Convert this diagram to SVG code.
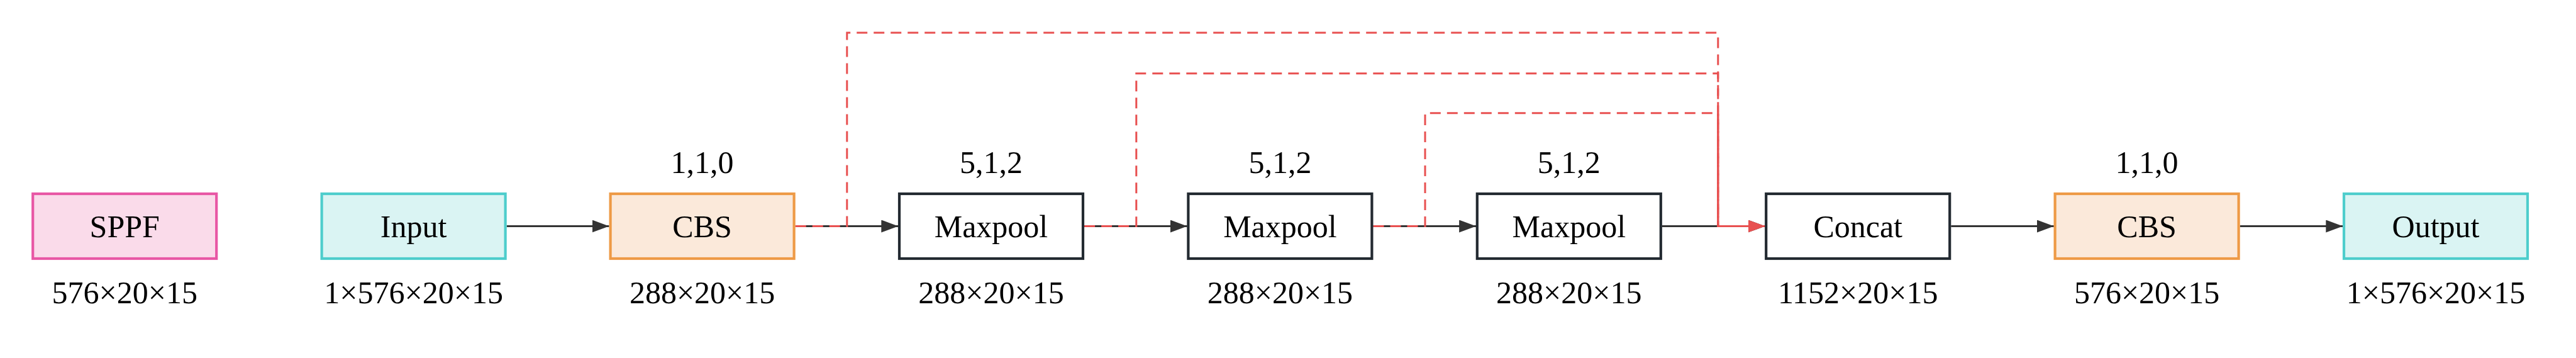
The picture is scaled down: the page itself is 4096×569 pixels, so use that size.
<svg xmlns="http://www.w3.org/2000/svg" width="4096" height="569" viewBox="0 0 4096 569">
<defs>
<style>
.box{stroke-width:4.2}
.sppf{fill:#FADBEA;stroke:#E857A5}
.io{fill:#DAF4F3;stroke:#4ECDCC}
.cbs{fill:#FBE9DA;stroke:#EE9A46}
.op{fill:#FFFFFF;stroke:#232A31}
text{font-family:"Liberation Serif","Times New Roman",serif;font-size:50px;fill:#000;text-anchor:middle}
.conn{fill:none;stroke:#333333;stroke-width:3}
.skip{fill:none;stroke:#E85050;stroke-width:3;stroke-dasharray:17 10}
.merge{fill:none;stroke:#E85050;stroke-width:3}
</style>
<marker id="arrDark" markerUnits="userSpaceOnUse" markerWidth="28" markerHeight="20" refX="27" refY="10" orient="auto">
<path d="M0,0 L27,10 L0,20 Z" fill="#333333"/>
</marker>
<marker id="arrRed" markerUnits="userSpaceOnUse" markerWidth="28" markerHeight="20" refX="27" refY="10" orient="auto">
<path d="M0,0 L27,10 L0,20 Z" fill="#E85050"/>
</marker>
</defs>
<rect width="4096" height="569" fill="#FFFFFF"/>

<g id="connectors">
<path class="conn" d="M805.7 359.5 H968.5" marker-end="url(#arrDark)"/>
<path class="conn" d="M1264.7 359.5 H1428.3" marker-end="url(#arrDark)"/>
<path class="conn" d="M1724.1 359.5 H1887.7" marker-end="url(#arrDark)"/>
<path class="conn" d="M2183.5 359.5 H2347.1" marker-end="url(#arrDark)"/>
<path class="conn" d="M2642.9 359.5 H2806.5" marker-end="url(#arrDark)"/>
<path class="conn" d="M3102.3 359.5 H3265.9" marker-end="url(#arrDark)"/>
<path class="conn" d="M3561.7 359.5 H3725.3" marker-end="url(#arrDark)"/>
<path class="skip" d="M1264.7 359.5 H1346.8 V52 H2731.8 V359.5 H2780"/>
<path class="skip" d="M1724.1 359.5 H1806.8 V116.7 H2731.8 V359.5 H2780"/>
<path class="skip" d="M2183.5 359.5 H2266 V179.8 H2731.8 V359.5 H2780"/>
<path class="merge" d="M2731.8 179.8 V359.5 H2806.5" marker-end="url(#arrRed)"/>
</g>

<g id="node-sppf">
<rect class="box sppf" x="52.2" y="308" width="292" height="103"/>
<text x="198.2" y="377">SPPF</text>
<text x="198.2" y="482">576×20×15</text>
</g>
<g id="node-input">
<rect class="box io" x="511.6" y="308" width="292" height="103"/>
<text x="657.6" y="377">Input</text>
<text x="657.6" y="482">1×576×20×15</text>
</g>
<g id="node-cbs1">
<rect class="box cbs" x="970.6" y="308" width="292" height="103"/>
<text x="1116.6" y="377">CBS</text>
<text x="1116.6" y="275">1,1,0</text>
<text x="1116.6" y="482">288×20×15</text>
</g>
<g id="node-maxpool1">
<rect class="box op" x="1430" y="308" width="292" height="103"/>
<text x="1576" y="377">Maxpool</text>
<text x="1576" y="275">5,1,2</text>
<text x="1576" y="482">288×20×15</text>
</g>
<g id="node-maxpool2">
<rect class="box op" x="1889.4" y="308" width="292" height="103"/>
<text x="2035.4" y="377">Maxpool</text>
<text x="2035.4" y="275">5,1,2</text>
<text x="2035.4" y="482">288×20×15</text>
</g>
<g id="node-maxpool3">
<rect class="box op" x="2348.8" y="308" width="292" height="103"/>
<text x="2494.8" y="377">Maxpool</text>
<text x="2494.8" y="275">5,1,2</text>
<text x="2494.8" y="482">288×20×15</text>
</g>
<g id="node-concat">
<rect class="box op" x="2808.2" y="308" width="292" height="103"/>
<text x="2954.2" y="377">Concat</text>
<text x="2954.2" y="482">1152×20×15</text>
</g>
<g id="node-cbs2">
<rect class="box cbs" x="3267.6" y="308" width="292" height="103"/>
<text x="3413.6" y="377">CBS</text>
<text x="3413.6" y="275">1,1,0</text>
<text x="3413.6" y="482">576×20×15</text>
</g>
<g id="node-output">
<rect class="box io" x="3727" y="308" width="292" height="103"/>
<text x="3873" y="377">Output</text>
<text x="3873" y="482">1×576×20×15</text>
</g>
</svg>
